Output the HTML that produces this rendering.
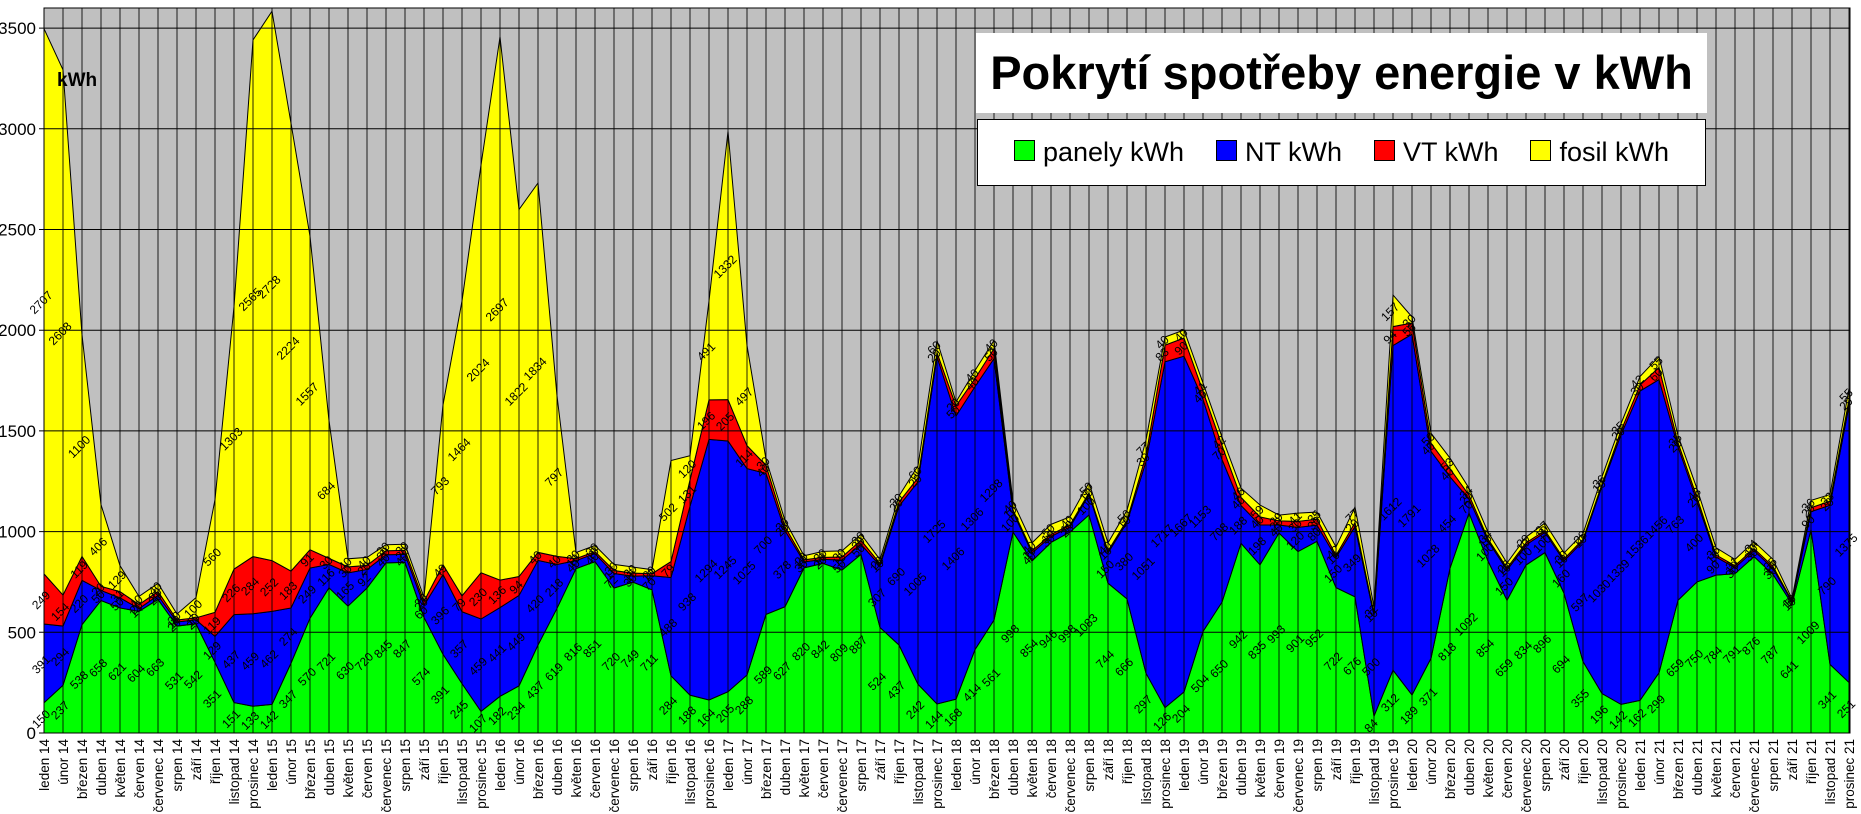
<!DOCTYPE html>
<html><head><meta charset="utf-8"><style>
body{margin:0;background:#fff;width:1861px;height:814px;overflow:hidden;font-family:"Liberation Sans",sans-serif}
svg{position:absolute;left:0;top:0}
</style></head><body>
<svg id="chart" width="1861" height="814" xmlns="http://www.w3.org/2000/svg"></svg>
<script>
const years = ["14","15","16","17","18","19","20","21"];
const monthNames = ["leden","únor","březen","duben","květen","červen","červenec","srpen","září","říjen","listopad","prosinec"];
const yTicks = [0,500,1000,1500,2000,2500,3000,3500];
const panely = [150,237,538,658,621,604,663,531,542,351,151,133, 142,347,570,721,630,720,845,847,574,391,245,107,
 182,234,437,619,816,851,720,749,711,284,188,164, 205,288,589,627,820,842,809,887,524,437,242,144,
 168,414,561,998,854,946,998,1083,744,666,297,126, 204,504,650,942,835,993,901,952,722,676,84,312,
 189,371,818,1092,854,659,834,896,694,355,196,142, 162,299,659,750,784,791,876,787,641,1009,341,251];
const nt = [391,294,220,50,50,14,20,20,20,129,437,459, 462,274,249,116,165,92,40,40,60,396,357,459,
 441,449,420,218,40,40,72,30,70,488,938,1294, 1245,1025,700,378,30,20,50,50,307,690,1005,1725,
 1406,1306,1298,100,40,30,25,100,150,380,1051,1717, 1667,1153,708,188,198,40,120,80,150,349,500,1612,
 1791,1028,454,70,100,150,100,100,160,597,1030,1339, 1536,1456,763,400,90,30,30,30,10,90,790,1375];
const vt = [249,154,119,20,31,20,20,10,10,119,226,284, 252,183,91,30,30,20,20,20,20,49,79,230,
 136,94,40,40,10,10,15,15,10,79,131,196, 205,114,40,20,10,10,15,20,10,20,20,20,
 50,40,50,10,10,10,10,10,10,10,30,83, 90,40,70,40,40,20,30,30,10,20,10,94,
 56,40,40,20,10,10,10,10,10,10,10,20, 30,60,20,20,10,10,10,10,5,20,20,29];
const fosil = [2707,2608,1100,406,129,40,40,30,100,560,1303,2565, 2728,2224,1557,684,40,40,30,30,20,793,1464,2024,
 2697,1822,1834,797,30,30,30,30,20,502,120,491, 1332,497,30,30,20,30,30,30,20,30,60,60,
 20,40,40,40,40,50,40,50,40,50,77,40, 40,41,42,46,59,29,41,35,42,77,32,157,
 30,50,53,34,34,25,29,37,30,28,36,35, 42,55,35,43,36,31,34,35,10,36,33,55];

const svg=document.getElementById('chart');
const NS='http://www.w3.org/2000/svg';
const X0=44, DX=19, Y0=733, K=0.2014, TOP=8;
const xs=i=>X0+i*DX;
const ys=v=>Y0-v*K;
const N=panely.length;
const XR=xs(N-1)+1;
function mk(t,a,p){const e=document.createElementNS(NS,t);for(const k in a)e.setAttribute(k,a[k]);(p||svg).appendChild(e);return e;}

const bg=mk('rect',{x:X0,y:TOP,width:XR-X0,height:Y0-TOP,fill:'#c0c0c0'});



const series=[panely,nt,vt,fosil];
const colors=['#00ff00','#0000ff','#ff0000','#ffff00'];
const names=['area-panely','area-nt','area-vt','area-fosil'];
const cum=[];let base=new Array(N).fill(0);
series.forEach((s,k)=>{const top=base.map((b,i)=>b+s[i]);cum.push([base,top]);base=top;});
cum.forEach(([lo,hi],k)=>{
  let d='M'+xs(0)+','+ys(hi[0]);
  for(let i=1;i<N;i++)d+=' L'+xs(i)+','+ys(hi[i]);
  for(let i=N-1;i>=0;i--)d+=' L'+xs(i)+','+ys(lo[i]);
  d+='Z';
  const p=mk('path',{d:d,fill:colors[k],stroke:'#000','stroke-width':1});
  
  
});
for(let i=0;i<N;i++){const l=mk('line',{x1:xs(i),x2:xs(i),y1:TOP,y2:Y0,stroke:'#000','stroke-width':1,'stroke-opacity':0.85});

}
yTicks.forEach(v=>{const l=mk('line',{x1:X0-5,x2:XR,y1:ys(v),y2:ys(v),stroke:'#000','stroke-width':1});


const t=mk('text',{x:X0-8,y:ys(v)+6,'text-anchor':'end','font-size':17,fill:'#000'});t.textContent=v;

});
mk('rect',{x:X0,y:TOP,width:XR-X0,height:Y0-TOP,fill:'none',stroke:'#000','stroke-width':1});
const dl=mk('g',{'font-size':12,fill:'#000'});
cum.forEach(([lo,hi],k)=>{for(let i=0;i<N;i++){const v=series[k][i];const cx=xs(i),cy=(ys(lo[i])+ys(hi[i]))/2+4;
const t=mk('text',{x:cx,y:cy,'text-anchor':'middle',transform:'rotate(-45 '+cx+' '+cy+')'},dl);t.textContent=v;

}});
for(let i=0;i<N;i++){const lab=monthNames[i%12]+' '+years[Math.floor(i/12)];const cx=xs(i)+5,cy=739;
const t=mk('text',{x:cx,y:cy,'text-anchor':'end','font-size':13.5,transform:'rotate(-90 '+cx+' '+cy+')'});t.textContent=lab;

}
</script>
<div style="position:absolute;left:57px;top:70px;font-weight:bold;font-size:19px">kWh</div>
<div style="position:absolute;left:976px;top:33px;width:731px;height:80px;background:#fff;font-weight:bold;font-size:47px;text-align:center;line-height:80px;white-space:nowrap">Pokrytí spotřeby energie v kWh</div>
<div style="position:absolute;left:977px;top:119px;width:729px;height:67px;background:#fff;border:1px solid #000;font-size:27px;display:flex;align-items:center;justify-content:space-around;padding:0 20px;box-sizing:border-box">
 <span><span style="display:inline-block;width:19px;height:19px;background:#00ff00;border:1px solid #000;margin-right:8px"></span>panely kWh</span>
 <span><span style="display:inline-block;width:19px;height:19px;background:#0000ff;border:1px solid #000;margin-right:8px"></span>NT kWh</span>
 <span><span style="display:inline-block;width:19px;height:19px;background:#ff0000;border:1px solid #000;margin-right:8px"></span>VT kWh</span>
 <span><span style="display:inline-block;width:19px;height:19px;background:#ffff00;border:1px solid #000;margin-right:8px"></span>fosil kWh</span>
</div>
</body></html>
